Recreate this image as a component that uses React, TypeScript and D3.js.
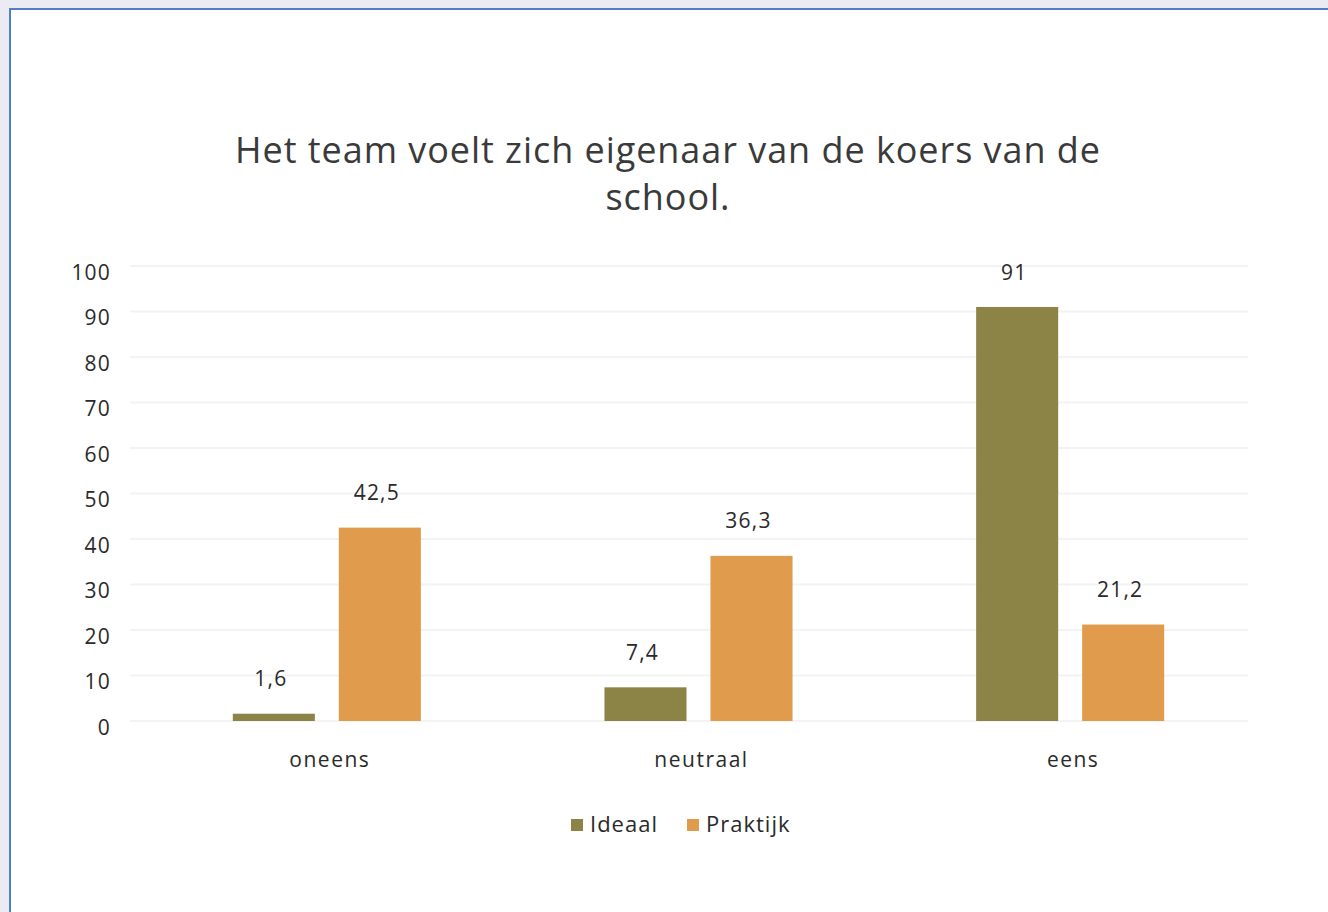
import React from "react";
import * as d3 from "d3";

const categories = ["oneens", "neutraal", "eens"];
const seriesNames = ["Ideaal", "Praktijk"];
const ideaal = [1.6, 7.4, 91];
const praktijk = [42.5, 36.3, 21.2];
const valueLabels = [["1,6", "7,4", "91"], ["42,5", "36,3", "21,2"]];
const yTicks = [0, 10, 20, 30, 40, 50, 60, 70, 80, 90, 100];
const titleLines = ["Het team voelt zich eigenaar van de koers van de", "school."];

const W = 1328;
const H = 912;
const colors = ["#8b8446", "#e09b4d"];
const FONT = "'Open Sans', 'DejaVu Sans', sans-serif";
const TEXT = "#2a2a2a";

export default function App() {
  const seriesValues = [ideaal, praktijk];
  const y = d3.scaleLinear().domain([0, 100]).range([721, 266]);
  const x0 = d3.scaleBand<string>().domain(categories).range([141, 1256]).padding(0);
  const x1 = d3
    .scaleBand<string>()
    .domain(seriesNames)
    .range([0, x0.bandwidth()])
    .paddingInner(0.226)
    .paddingOuter(0.866);

  return (
    <div style={{ position: "fixed", left: 0, top: 0, width: W, height: H }}>
      <svg width={W} height={H} style={{ display: "block" }}>
        <rect x={0} y={0} width={W} height={H} fill="#ecebf3" />
        <rect x={10} y={9} width={W + 10} height={H + 10} fill="#ffffff" stroke="#4f7fc6" strokeWidth={2} />
        {titleLines.map((t, i) => (
          <text
            key={i}
            x={668}
            y={163 + i * 47}
            textAnchor="middle"
            fontFamily={FONT}
            fontSize={36}
            letterSpacing={0.95}
            fill="#3a3a3a"
          >
            {t}
          </text>
        ))}
        {yTicks.map((t) => (
          <g key={t}>
            <line x1={130} x2={1248} y1={y(t)} y2={y(t)} stroke="#f3f3f3" strokeWidth={2} />
            <text
              x={111}
              y={y(t) + 8}
              textAnchor="end"
              dominantBaseline="middle"
              fontFamily={FONT}
              fontSize={21}
              letterSpacing={1.2}
              fill={TEXT}
            >
              {t}
            </text>
          </g>
        ))}
        {categories.map((c, ci) => (
          <g key={c} transform={`translate(${x0(c)},0)`}>
            {seriesNames.map((s, si) => {
              const v = seriesValues[si][ci];
              const bx = x1(s) as number;
              return (
                <g key={s}>
                  <rect
                    x={bx}
                    y={y(v)}
                    width={x1.bandwidth()}
                    height={y(0) - y(v)}
                    fill={colors[si]}
                  />
                  <text
                    x={bx + x1.bandwidth() / 2 - 3}
                    y={y(v) - 33}
                    textAnchor="middle"
                    dominantBaseline="middle"
                    fontFamily={FONT}
                    fontSize={21}
                    letterSpacing={1.2}
                    fill={TEXT}
                  >
                    {valueLabels[si][ci]}
                  </text>
                </g>
              );
            })}
            <text
              x={x0.bandwidth() / 2 + 3}
              y={761}
              textAnchor="middle"
              dominantBaseline="middle"
              fontFamily={FONT}
              fontSize={21}
              letterSpacing={1.5}
              fill={TEXT}
            >
              {c}
            </text>
          </g>
        ))}
        {seriesNames.map((s, si) => {
          const lx = [571, 687][si];
          return (
            <g key={s}>
              <rect x={lx} y={819} width={12} height={12} fill={colors[si]} />
              <text
                x={lx + 19}
                y={826}
                dominantBaseline="middle"
                fontFamily={FONT}
                fontSize={22}
                letterSpacing={1}
                fill={TEXT}
              >
                {s}
              </text>
            </g>
          );
        })}
      </svg>
    </div>
  );
}
